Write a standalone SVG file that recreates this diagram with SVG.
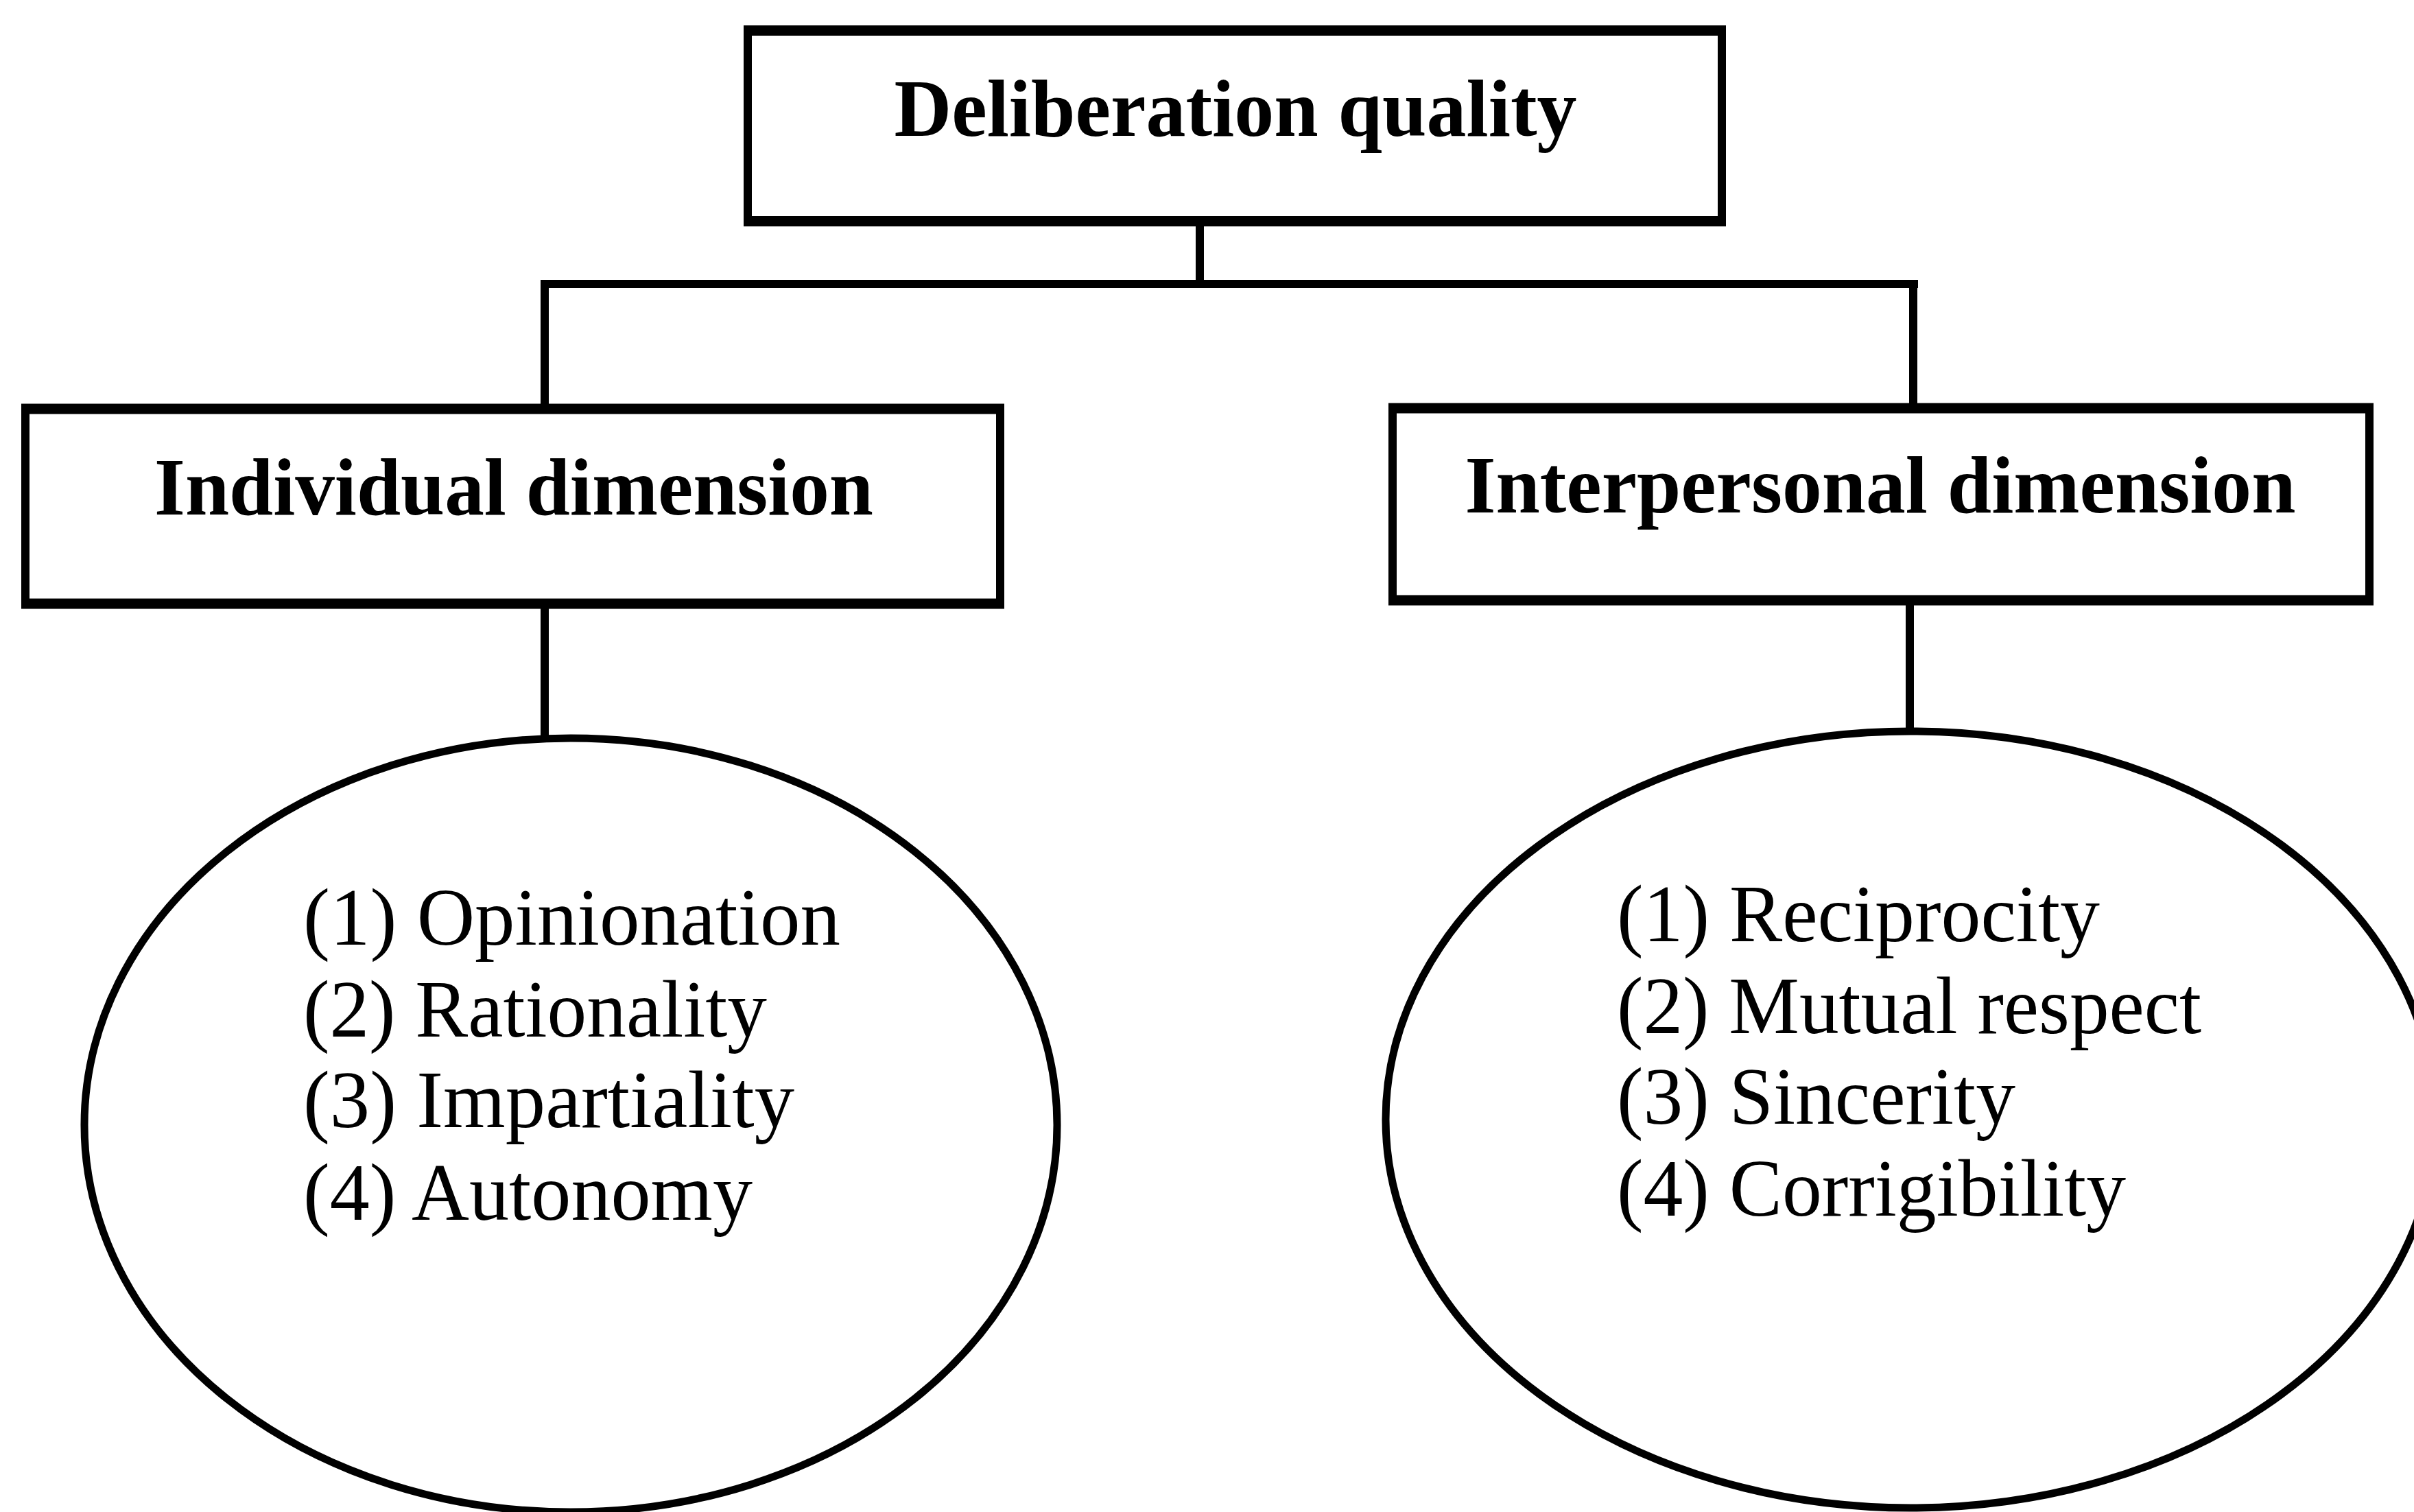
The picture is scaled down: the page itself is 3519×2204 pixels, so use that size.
<svg xmlns="http://www.w3.org/2000/svg" width="3519" height="2204" viewBox="0 0 3519 2204">
<style>
.bg{fill:#fff}
.box{fill:none;stroke:#000;stroke-width:12}
.edge{fill:none;stroke:#000;stroke-width:15}
.oval{fill:none;stroke:#000;stroke-width:11}
.conn{fill:none;stroke:#000;stroke-width:12}
.title{font-family:"Liberation Serif","Times New Roman",serif;font-weight:bold;font-size:118px;fill:#000;text-anchor:middle}
.item{font-family:"Liberation Serif","Times New Roman",serif;font-size:118px;fill:#000}
</style>
<rect class="bg" x="0" y="0" width="3519" height="2204"/>
<g id="connectors">
<line class="conn" x1="1749" y1="328" x2="1749" y2="414"/>
<line class="conn" x1="788" y1="414" x2="2796" y2="414"/>
<line class="conn" x1="794" y1="414" x2="794" y2="592"/>
<line class="conn" x1="2789" y1="414" x2="2789" y2="590"/>
<line class="conn" x1="794" y1="884" x2="794" y2="1076"/>
<line class="conn" x1="2784" y1="878" x2="2784" y2="1066"/>
</g>
<g id="node-deliberation">
<rect class="box" x="1090" y="44" width="1420" height="279"/>
<line class="edge" x1="1084" y1="44.5" x2="2516" y2="44.5"/>
<line class="edge" x1="1084" y1="322.5" x2="2516" y2="322.5"/>
<text class="title" x="1801" y="198" textLength="995" lengthAdjust="spacingAndGlyphs">Deliberation quality</text>
</g>
<g id="node-individual">
<rect class="box" x="37" y="596" width="1421" height="284"/>
<line class="edge" x1="31" y1="596" x2="1464" y2="596"/>
<line class="edge" x1="31" y1="880" x2="1464" y2="880"/>
<text class="title" x="749" y="750" textLength="1048" lengthAdjust="spacingAndGlyphs">Individual dimension</text>
</g>
<g id="node-interpersonal">
<rect class="box" x="2030" y="595" width="1424" height="280"/>
<line class="edge" x1="2024" y1="595" x2="3460" y2="595"/>
<line class="edge" x1="2024" y1="875" x2="3460" y2="875"/>
<text class="title" x="2741" y="747" textLength="1211" lengthAdjust="spacingAndGlyphs">Interpersonal dimension</text>
</g>
<g id="node-individual-list">
<ellipse class="oval" cx="832" cy="1640" rx="709" ry="564"/>
<text class="item" x="442" y="1377" textLength="783" lengthAdjust="spacingAndGlyphs">(1) Opinionation</text>
<text class="item" x="442" y="1511" textLength="676" lengthAdjust="spacingAndGlyphs">(2) Rationality</text>
<text class="item" x="442" y="1643" textLength="716" lengthAdjust="spacingAndGlyphs">(3) Impartiality</text>
<text class="item" x="442" y="1778" textLength="655" lengthAdjust="spacingAndGlyphs">(4) Autonomy</text>
</g>
<g id="node-interpersonal-list">
<ellipse class="oval" cx="2785" cy="1632" rx="765" ry="566"/>
<text class="item" x="2357" y="1372" textLength="704" lengthAdjust="spacingAndGlyphs">(1) Reciprocity</text>
<text class="item" x="2357" y="1506" textLength="852" lengthAdjust="spacingAndGlyphs">(2) Mutual respect</text>
<text class="item" x="2357" y="1638" textLength="581" lengthAdjust="spacingAndGlyphs">(3) Sincerity</text>
<text class="item" x="2357" y="1772" textLength="742" lengthAdjust="spacingAndGlyphs">(4) Corrigibility</text>
</g>
</svg>
